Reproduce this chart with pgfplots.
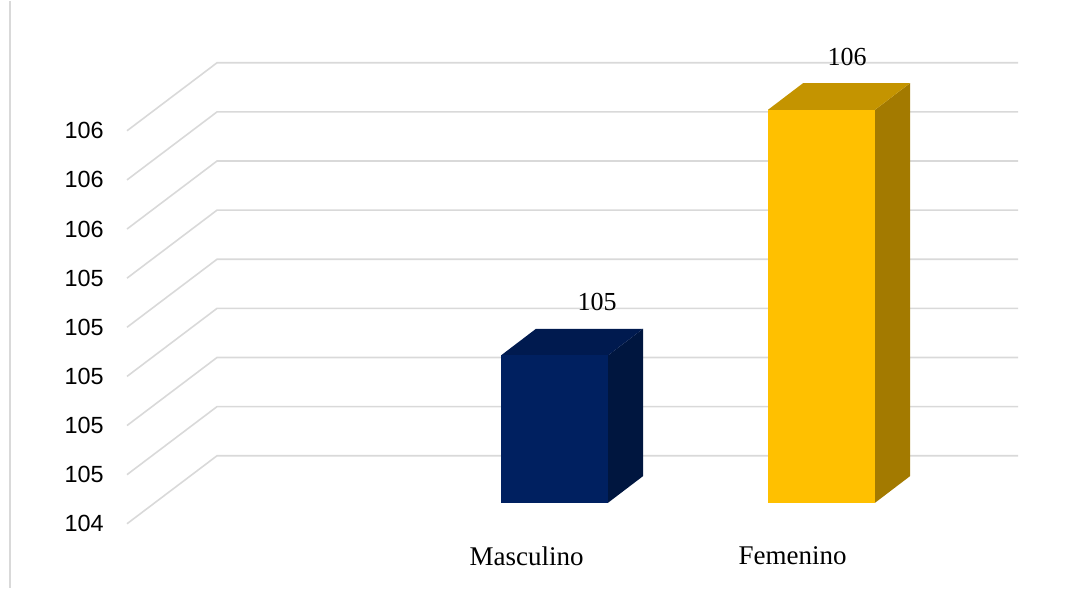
\documentclass[border=0pt]{standalone}
\usepackage{pgfplots}
\pgfplotsset{compat=1.18}
\usepackage{pgfplotstable}
\usepackage{fontspec}
\setmainfont{Liberation Serif}
\newfontfamily\tickfont{Liberation Sans}
\definecolor{gridc}{HTML}{D9D9D9}
\definecolor{mfront}{HTML}{002060}
\definecolor{mtop}{HTML}{001A4F}
\definecolor{mside}{HTML}{00163F}
\definecolor{ffront}{HTML}{FFC000}
\definecolor{ftop}{HTML}{C49400}
\definecolor{fside}{HTML}{A37A00}

% category index, value
\pgfplotstableread{
idx v
0 105
1 106
}\datatable

% 3D column drawn from the table value
\newcommand\threedbar[4]{%
  \pgfplotstablegetelem{#1}{v}\of\datatable
  \let\val\pgfplotsretval
  \pgfmathsetmacro\xl{501+267*#1}
  \pgfmathsetmacro\xr{\xl+107}
  \pgfmathsetmacro\xlb{\xl+35}
  \pgfmathsetmacro\xrb{\xr+35}
  \pgfmathsetmacro\yft{\val-0.1914}
  \pgfmathsetmacro\ybt{\val-0.083}
  \addplot[fill=#4, draw=none] coordinates {(\xr,104.2086) (\xrb,104.317) (\xrb,\ybt) (\xr,\yft)};
  \addplot[fill=#3, draw=none] coordinates {(\xl,\yft) (\xr,\yft) (\xrb,\ybt) (\xlb,\ybt)};
  \addplot[fill=#2, draw=none] coordinates {(\xl,104.2086) (\xr,104.2086) (\xr,\yft) (\xl,\yft)};
}

\begin{document}
\begin{tikzpicture}
\begin{axis}[
  scale only axis,
  width=539.5pt, height=293.5pt,
  xmin=0, xmax=1079,
  ymin=103.8624, ymax=106.2524,
  hide axis, clip=false,
]
% bounding box
\addplot[draw=none] coordinates {(0,103.8624) (1079,106.2524)};
% left border
\addplot[gridc, line width=0.8pt] coordinates {(10,103.8624) (10,106.2524)};
% gridlines (back wall + side wall)
\pgfplotsinvokeforeach{104.4,104.6,104.8,105.0,105.2,105.4,105.6,105.8,106.0}{%
  \addplot[gridc, line width=0.8pt] table[x=x, y expr=\thisrow{y}+#1, row sep=\\]{x y\\ 127 -0.2769\\ 217 0\\ 1018 0\\};
}
% tick labels
\foreach \v/\t in {104.4/104,104.6/105,104.8/105,105.0/105,105.2/105,105.4/105,105.6/106,105.8/106,106.0/106}{%
  \edef\temp{\noexpand\node[anchor=east, font=\noexpand\tickfont\noexpand\fontsize{11.7}{13}\noexpand\selectfont, inner sep=0pt] at (axis cs:104,\v-0.2769) {\t};}
  \temp
}
% bars
\threedbar{0}{mfront}{mtop}{mside}
\threedbar{1}{ffront}{ftop}{fside}
% data labels
\addplot[draw=none, mark=none, point meta=explicit,
  nodes near coords={\pgfmathprintnumber[fixed,precision=0,assume math mode=true]{\pgfplotspointmeta}},
  every node near coord/.style={anchor=center, inner sep=0pt, font=\fontsize{13}{15}\selectfont, text=black}]
  table[x expr=597+250*\thisrow{idx}, y expr=\thisrow{v}+0.025, meta=v]{\datatable};
% category labels
\node[font=\fontsize{13.5}{15}\selectfont, inner sep=0pt] at (axis cs:526.5,103.992) {Masculino};
\node[font=\fontsize{13.5}{15}\selectfont, inner sep=0pt] at (axis cs:792.5,103.992) {Femenino};
\end{axis}
\end{tikzpicture}
\end{document}
